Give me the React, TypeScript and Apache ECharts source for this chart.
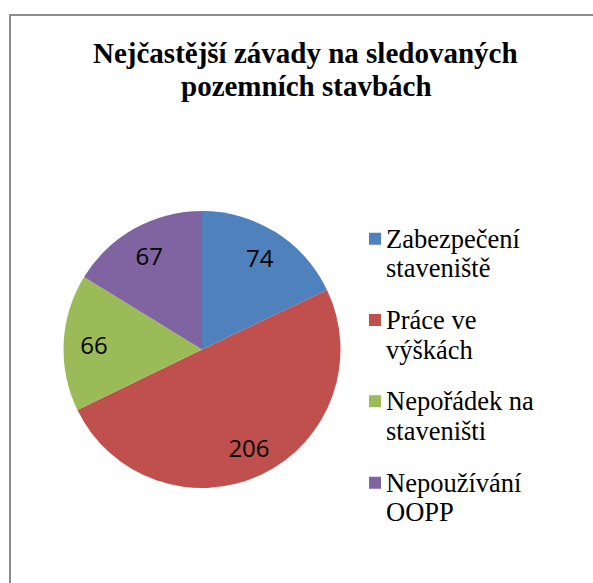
import React, { useEffect, useRef } from "react";
import * as echarts from "echarts";

const titleLines = ["Nejčastější závady na sledovaných", "pozemních stavbách"];
const categories = [
  "Zabezpečení\nstaveniště",
  "Práce ve\nvýškách",
  "Nepořádek na\nstaveništi",
  "Nepoužívání\nOOPP",
];
const values = [74, 206, 66, 67];
const colors = ["#4F81BD", "#C0504D", "#9BBB59", "#8064A2"];

const SERIF = "'Liberation Serif', 'Times New Roman', serif";

export default function App() {
  const ref = useRef<HTMLDivElement>(null);
  useEffect(() => {
    document.body.style.margin = "0";
    document.body.style.overflow = "hidden";
    if (!ref.current) return;
    const chart = echarts.init(ref.current, undefined, { renderer: "svg" });
    const data = categories.map((name, i) => ({
      name,
      value: values[i],
      itemStyle: { color: colors[i] },
    }));
    const labelData = categories.map((name, i) => ({
      name,
      value: values[i],
      itemStyle: { color: "rgba(0,0,0,0)" },
    }));
    const lh = 29.5;
    const iconH = 41.5;
    chart.setOption({
      animation: false,
      backgroundColor: "#ffffff",
      title: [
        {
          text: titleLines[0],
          left: 93,
          top: 38,
          padding: 0,
          textStyle: {
            fontFamily: SERIF,
            fontWeight: "bold",
            fontSize: 29,
            color: "#000",
          },
        },
        {
          text: titleLines[1],
          left: 181,
          top: 71,
          padding: 0,
          textStyle: {
            fontFamily: SERIF,
            fontWeight: "bold",
            fontSize: 29,
            color: "#000",
          },
        },
      ],
      legend: {
        orient: "vertical",
        left: 369,
        top: 224,
        padding: 0,
        itemWidth: 12,
        itemHeight: iconH,
        itemGap: 81.3 - 2 * lh,
        icon: "path://M0,0H12V12H0Z M0," + iconH + "L12," + iconH,
        data: categories,
        textStyle: {
          fontFamily: SERIF,
          fontSize: 26.5,
          lineHeight: lh,
          color: "#000",
        },
      },
      graphic: [
        {
          type: "line",
          shape: { x1: 10, y1: 15, x2: 10, y2: 600 },
          style: { stroke: "#8c8c8c", lineWidth: 2 },
          silent: true,
        },
        {
          type: "line",
          shape: { x1: 9, y1: 15, x2: 600, y2: 15 },
          style: { stroke: "#8c8c8c", lineWidth: 2 },
          silent: true,
        },
      ],
      series: [
        {
          type: "pie",
          center: [202, 349.5],
          radius: [0, 138.5],
          startAngle: 90,
          clockwise: true,
          label: { show: false },
          labelLine: { show: false },
          itemStyle: { borderWidth: 0 },
          data,
        },
        {
          type: "pie",
          center: [202, 349.5],
          radius: [72, 138.5],
          startAngle: 90,
          clockwise: true,
          silent: true,
          label: {
            show: true,
            position: "inside",
            formatter: "{c}",
            fontFamily: "'Open Sans', sans-serif",
            fontSize: 24,
            color: "#000",
          },
          labelLine: { show: false },
          itemStyle: { borderWidth: 0 },
          data: labelData,
        },
      ],
    });
    return () => chart.dispose();
  }, []);
  return <div ref={ref} style={{ width: 593, height: 583 }} />;
}
